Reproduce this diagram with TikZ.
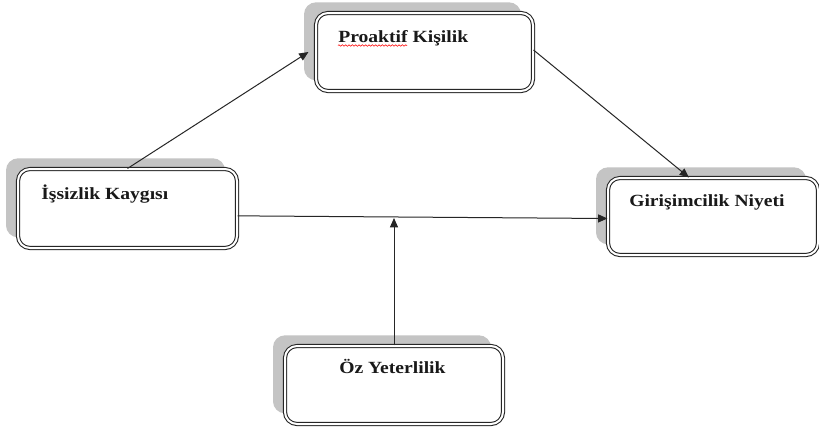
\documentclass[tikz,border=0pt]{standalone}
\usepackage{fontspec}
\setmainfont{Liberation Serif}[FakeStretch=1.15]
\usetikzlibrary{shadows,arrows.meta,decorations.pathmorphing,calc}
\begin{document}
\begin{tikzpicture}[x=0.75pt,y=-0.75pt,
  box/.style={draw=black!85, line width=0.8pt, double=white, double distance=1.5pt,
    rounded corners=9pt, fill=white, inner sep=0pt,
    general shadow={fill=black!23, shadow xshift=-9pt, shadow yshift=8pt}},
  lbl/.style={anchor=base west, inner sep=0pt, font=\bfseries\fontsize{12.8}{14}\selectfont, text=black!90},
  arr/.style={-{Triangle[length=7pt,width=6pt]}, line width=0.75pt, draw=black!85}]
\fill[white] (0,0) rectangle (819,430);
\useasboundingbox (0,0) rectangle (819,430);
% boxes
\node[box, minimum width=162.75pt, minimum height=58.5pt] (p) at (424.5,52) {};
\node[box, minimum width=164.25pt, minimum height=59.25pt] (i) at (127.5,208.5) {};
\node[box, minimum width=157.5pt, minimum height=57.75pt] (g) at (713,216.5) {};
\node[box, minimum width=163.5pt, minimum height=58.5pt] (o) at (394,385) {};
% labels
\node[lbl] (pt) at (338,42) {Proaktif Kişilik};
\node[lbl] (it) at (41,199) {İşsizlik Kaygısı};
\node[lbl] (gt) at (629,206) {Girişimcilik Niyeti};
\node[lbl] (ot) at (339,373) {Öz Yeterlilik};
\draw[red, line width=0.4pt, decorate, decoration={snake, amplitude=0.6pt, segment length=2.5pt}]
  (338,45.5) -- (407,45.5);
% connectors
\coordinate (m) at (394,218);
\draw[arr] (i.north) -- ([xshift=-5.25pt]p.west);
\draw[arr] ([yshift=1.5pt]p.east) -- ([xshift=-18pt]g.north);
\draw[arr] ([yshift=-5.5pt]i.east) -- ([yshift=-1.5pt]g.west);
\draw[arr] (o.north) -- (m);
\end{tikzpicture}
\end{document}
